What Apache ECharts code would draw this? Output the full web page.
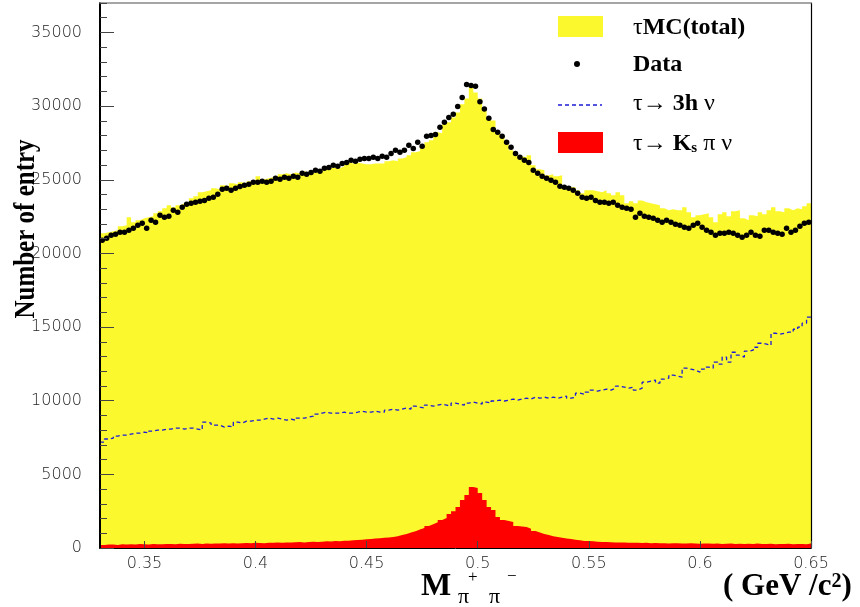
<!DOCTYPE html>
<html><head><meta charset="utf-8">
<script src="https://cdn.jsdelivr.net/npm/echarts@6/dist/echarts.min.js"></script>
<style>html,body{margin:0;padding:0;background:#fff}#c{width:860px;height:607px}</style>
</head><body><div id="c"></div>
<script>
// Histogram binning: 160 bins of width 0.002 GeV/c^2 starting at 0.33
const binLo = 0.33;
const binWidth = 0.002;
const xTicks = [0.35, 0.4, 0.45, 0.5, 0.55, 0.6, 0.65];
const yTicks = [0, 5000, 10000, 15000, 20000, 25000, 30000, 35000];

// Data points (black dots), one per bin
const dataCounts = [
20900,21030,21230,21300,21430,21430,21570,21700,21910,22040,21700,22250,22110,22590,22450,22520,22930,22790,23130,23330,
23400,23470,23540,23600,23740,23810,24010,24350,24420,24280,24420,24550,24620,24690,24830,24830,24900,24830,24900,25100,
25030,25170,25100,25230,25170,25440,25370,25500,25640,25570,25780,25840,25980,25910,26110,26180,26320,26250,26390,26450,
26450,26520,26450,26590,26520,26790,27000,26860,27000,27340,27130,27540,27270,27950,28010,28080,28560,28900,29230,29440,
29980,30590,31470,31400,31340,30300,29800,29170,28420,28220,27950,27540,27200,26790,26520,26320,26180,25640,25440,25230,
25100,24960,24830,24560,24490,24420,24280,24080,23810,23740,23810,23600,23470,23470,23400,23470,23270,23130,23060,22990,
22450,22720,22520,22450,22380,22250,22110,22250,22110,21980,21910,21770,21710,21910,22040,21770,21570,21430,21230,21370,
21370,21430,21370,21230,21100,21230,21430,21230,21160,21570,21570,21430,21370,21300,21710,21430,21570,21840,22040,22110
];

// tau MC (total) histogram
const mcTotal = [
21370,21430,21500,21570,21840,21910,22450,22110,22250,22380,22450,22520,22720,22860,23060,23270,23130,23270,23400,23470,
23740,23880,24150,24220,24280,24420,24350,24620,24560,24760,24690,24830,24760,24900,24960,25230,25030,25100,25170,25230,
25370,25440,25370,25500,25440,25570,25500,25640,25500,25710,25640,25780,25840,25780,25910,26180,26110,26180,26110,26050,
26050,26110,26110,26110,26250,26320,26250,26450,26520,26660,26860,26930,27200,27540,27680,28220,28150,28760,28900,29230,
29570,30120,30520,31270,30930,30520,29710,29230,29030,28150,27880,27470,27000,26660,26590,26520,26660,25980,25710,25640,
25300,25370,25230,25300,24560,24490,24490,24280,24080,24280,24280,24220,24150,24280,24080,23940,24150,23940,23400,23540,
23400,23600,23470,23400,23330,23270,23060,22930,22990,22930,22930,23130,22790,22450,22590,22650,22720,22450,22110,22650,
22790,22520,22860,22930,22380,22250,22590,22520,22790,22650,22930,23130,22860,22790,23060,22930,23060,22990,23200,23400
];

// tau -> 3h nu (blue dashed)
const h3Nu = [
7190,7400,7460,7600,7660,7660,7730,7800,7800,7870,7800,7940,8000,8000,8070,8070,8140,8140,8070,8140,
8140,8070,8000,8550,8480,8340,8340,8210,8280,8210,8550,8480,8610,8610,8680,8680,8750,8820,8750,8820,
8750,8680,8750,8680,8820,8820,8890,8950,9090,9160,9220,9160,9160,9160,9220,9160,9160,9220,9290,9220,
9220,9290,9220,9220,9360,9430,9360,9430,9500,9430,9630,9560,9500,9700,9630,9700,9770,9700,9630,9840,
9770,9700,9840,9910,9840,9770,9910,9840,9980,10040,9980,10040,10110,10040,10110,10170,10110,10240,10170,10240,
10170,10240,10170,10240,10310,10170,10240,10510,10440,10580,10720,10650,10720,10790,10720,10850,10990,10920,10850,10920,
10720,10850,11260,11330,11400,11190,11460,11530,11730,11670,11600,12210,12140,12070,11940,12140,12280,12210,12620,12480,
12960,12620,13290,13090,12960,13360,13430,13630,13900,13840,13770,14580,14510,14580,14650,14650,14850,14990,15260,15670
];

// tau -> Ks pi nu (red)
const ksPiNu = [
200,230,240,200,250,230,260,240,270,250,230,270,260,250,280,270,260,290,280,270,
290,300,280,300,290,310,300,320,300,330,310,320,340,330,350,340,330,360,350,370,
360,380,370,390,400,380,410,420,400,430,450,440,470,460,490,500,520,540,560,590,
610,640,660,690,720,750,800,880,950,1050,1130,1250,1360,1500,1620,1740,1900,2030,2300,2500,
2780,3260,3600,4140,4070,3730,3260,2780,2580,2100,1900,1830,1760,1490,1460,1420,1300,1150,1050,950,
880,800,750,700,640,610,560,520,480,470,450,420,410,400,390,380,370,380,360,350,
350,340,360,330,340,320,330,310,320,330,300,310,320,300,290,310,300,290,300,280,
290,300,280,290,270,290,280,300,270,280,290,260,280,270,290,260,270,280,260,300
];

function stepPoints(vals) {
  const pts = vals.map((v, i) => [+(binLo + i * binWidth).toFixed(4), v]);
  pts.push([+(binLo + vals.length * binWidth).toFixed(4), vals[vals.length - 1]]);
  return pts;
}
function centerPoints(vals) {
  return vals.map((v, i) => [+(binLo + (i + 0.5) * binWidth).toFixed(4), v]);
}

const yellow = '#fbf82e';
const blue = '#1c1cd8';
const serif = '"Liberation Serif", "Times New Roman", serif';
const labelFont = { fontFamily: 'DejaVu Sans', fontSize: 16, color: '#222', fontWeight: 200 };
const plainNum = v => String(v);

const chart = echarts.init(document.getElementById('c'), null, { renderer: 'canvas' });
chart.setOption({
  animation: false,
  backgroundColor: '#ffffff',
  grid: { left: 100, right: 49, top: 3, bottom: 59, containLabel: false },
  xAxis: [
    { type: 'value', min: 0.33, max: 0.65, position: 'bottom', z: 6,
      axisLine: { show: true, onZero: false, lineStyle: { color: '#000', width: 1 } },
      axisTick: { show: true, inside: true, length: 7, customValues: xTicks, lineStyle: { color: '#444' } },
      axisLabel: Object.assign({ customValues: xTicks, margin: 8, formatter: plainNum }, labelFont),
      splitLine: { show: false } },
    { type: 'value', min: 0.33, max: 0.65, position: 'top', z: 6,
      axisLine: { show: true, onZero: false, lineStyle: { color: '#888', width: 1.5 } },
      axisTick: { show: false }, axisLabel: { show: false }, splitLine: { show: false } }
  ],
  yAxis: [
    { type: 'value', min: 0, max: 37000, position: 'left', z: 6,
      axisLine: { show: true, onZero: false, lineStyle: { color: '#000', width: 2 } },
      axisTick: { show: true, inside: true, length: 14, customValues: yTicks, lineStyle: { color: '#444' } },
      axisLabel: Object.assign({ customValues: yTicks, margin: 18, formatter: plainNum }, labelFont),
      splitLine: { show: false } },
    { type: 'value', min: 0, max: 37000, interval: 1000, position: 'left', z: 6,
      axisLine: { show: false },
      axisTick: { show: true, inside: true, length: 7, lineStyle: { color: '#444' } },
      axisLabel: { show: false }, splitLine: { show: false } },
    { type: 'value', min: 0, max: 37000, position: 'right', z: 6,
      axisLine: { show: true, onZero: false, lineStyle: { color: '#000', width: 1.2 } },
      axisTick: { show: false }, axisLabel: { show: false }, splitLine: { show: false } }
  ],
  series: [
    { name: 'τMC(total)', type: 'line', step: 'end', data: stepPoints(mcTotal), symbol: 'none',
      lineStyle: { width: 0, color: yellow }, areaStyle: { color: yellow, opacity: 1, origin: 'start' }, z: 2 },
    { name: 'τ→ Ks π ν', type: 'line', step: 'end', data: stepPoints(ksPiNu), symbol: 'none',
      lineStyle: { width: 0, color: '#ff0000' }, areaStyle: { color: '#ff0000', opacity: 1, origin: 'start' }, z: 3 },
    { name: 'τ→ 3h ν', type: 'line', step: 'end', data: stepPoints(h3Nu), symbol: 'none',
      lineStyle: { width: 1.3, color: blue, type: [4, 3] }, z: 4 },
    { name: 'Data', type: 'scatter', data: centerPoints(dataCounts), symbol: 'circle', symbolSize: 5.5,
      itemStyle: { color: '#000', opacity: 1 }, z: 5 }
  ],
  graphic: [
    // legend
    { type: 'rect', shape: { x: 558, y: 16, width: 45, height: 21 }, style: { fill: yellow }, z: 10 },
    { type: 'text', x: 633, y: 28, z: 10, style: { text: '{r|τ}{b|MC(total)}', textVerticalAlign: 'middle',
      rich: { r: { fontFamily: serif, fontSize: 24, fill: '#000' }, b: { fontFamily: serif, fontSize: 24, fontWeight: 'bold', fill: '#000' } } } },
    { type: 'circle', shape: { cx: 577, cy: 64, r: 3 }, style: { fill: '#000' }, z: 10 },
    { type: 'text', x: 633, y: 65, z: 10, style: { text: 'Data', font: 'bold 24px ' + serif, fill: '#000', textVerticalAlign: 'middle' } },
    { type: 'line', shape: { x1: 558, y1: 105, x2: 602, y2: 105 }, style: { stroke: blue, lineWidth: 1.3, lineDash: [4, 3] }, z: 10 },
    { type: 'text', x: 633, y: 104, z: 10, style: { text: '{r|τ→ }{b|3h }{r|ν}', textVerticalAlign: 'middle',
      rich: { r: { fontFamily: serif, fontSize: 24, fill: '#000' }, b: { fontFamily: serif, fontSize: 24, fontWeight: 'bold', fill: '#000' } } } },
    { type: 'rect', shape: { x: 558, y: 132, width: 45, height: 21 }, style: { fill: '#ff0000' }, z: 10 },
    { type: 'text', x: 633, y: 144, z: 10, style: { text: '{r|τ→ }{b|K}{s|s}{r| π ν}', textVerticalAlign: 'middle',
      rich: { r: { fontFamily: serif, fontSize: 24, fill: '#000' }, b: { fontFamily: serif, fontSize: 24, fontWeight: 'bold', fill: '#000' },
              s: { fontFamily: serif, fontSize: 15, fontWeight: 'bold', fill: '#000', verticalAlign: 'bottom' } } } },
    // y-axis title
    { type: 'text', x: 27, y: 229, rotation: Math.PI / 2, scaleY: 1.15, z: 10,
      style: { text: 'Number of entry', font: 'bold 25px ' + serif, fill: '#000', textAlign: 'center', textVerticalAlign: 'middle' } },
    // x-axis title
    { type: 'text', x: 421, y: 587, z: 10, style: { text: 'M', font: 'bold 32px ' + serif, fill: '#000', textVerticalAlign: 'middle' } },
    { type: 'text', x: 458, y: 597, z: 10, style: { text: 'π', font: '22px ' + serif, fill: '#000', textVerticalAlign: 'middle' } },
    { type: 'text', x: 468, y: 578, z: 10, style: { text: '+', font: '17px ' + serif, fill: '#000', textVerticalAlign: 'middle' } },
    { type: 'text', x: 489, y: 597, z: 10, style: { text: 'π', font: '22px ' + serif, fill: '#000', textVerticalAlign: 'middle' } },
    { type: 'text', x: 507, y: 577, z: 10, style: { text: '−', font: '17px ' + serif, fill: '#000', textVerticalAlign: 'middle' } },
    { type: 'text', x: 723, y: 587, z: 10, style: { text: '{a|( GeV /c}{s|2}{a|)}', textVerticalAlign: 'middle',
      rich: { a: { fontFamily: serif, fontSize: 31, fontWeight: 'bold', fill: '#000' },
              s: { fontFamily: serif, fontSize: 20, fontWeight: 'bold', fill: '#000', verticalAlign: 'top' } } } }
  ]
});
</script>
</body></html>
